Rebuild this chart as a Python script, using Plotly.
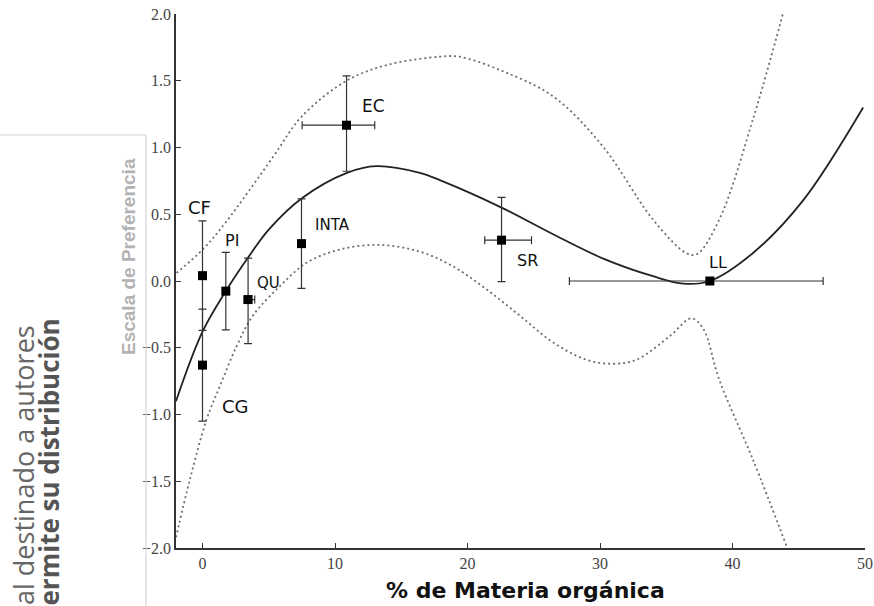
import plotly.graph_objects as go

# ---- data ----
site_names = ["CF", "CG", "PI", "QU", "INTA", "EC", "SR", "LL"]
site_x = [0.0, 0.0, 1.76, 3.44, 7.47, 10.87, 22.57, 38.29]
site_y = [0.04, -0.63, -0.076, -0.139, 0.28, 1.167, 0.306, 0.0]
err_y_plus = [0.41, 0.42, 0.29, 0.31, 0.335, 0.37, 0.32, 0.0]
err_y_minus = [0.41, 0.42, 0.29, 0.33, 0.335, 0.345, 0.31, 0.0]
err_x_plus = [0.0, 0.0, 0.0, 0.5, 0.0, 2.13, 2.26, 8.55]
err_x_minus = [0.0, 0.0, 0.0, 0.3, 0.0, 3.35, 1.27, 10.6]

fit_x = [-2.0, 0.0, 1.76, 3.4, 5.0, 7.5, 10.9, 13.1, 16.4, 18.05, 22.57, 26.46, 30.2, 34.0, 36.3, 38.3, 41.55, 45.3, 49.86]
fit_y = [-0.90, -0.38, -0.076, 0.17, 0.385, 0.62, 0.81, 0.86, 0.81, 0.75, 0.55, 0.35, 0.17, 0.036, -0.02, 0.0, 0.21, 0.60, 1.30]

upper_x = [-1.96, 0.05, 1.76, 5.33, 7.47, 10.87, 14.0, 17.9, 19.4, 22.7, 26.5, 30.2, 34.0, 36.5, 37.3, 39.0, 41.6, 43.8]
upper_y = [0.06, 0.24, 0.44, 0.93, 1.23, 1.50, 1.62, 1.68, 1.68, 1.57, 1.38, 1.01, 0.46, 0.21, 0.20, 0.46, 1.23, 2.0]

lower_x = [-2.0, -0.96, 0.3, 1.3, 2.57, 3.8, 5.83, 7.85, 10.36, 13.4, 16.4, 18.9, 21.4, 23.95, 26.46, 28.98, 31.0, 32.75, 35.3, 36.9, 37.8, 39.0, 41.55, 44.1]
lower_y = [-1.92, -1.49, -1.04, -0.79, -0.49, -0.26, -0.04, 0.136, 0.236, 0.27, 0.22, 0.11, -0.06, -0.26, -0.46, -0.59, -0.62, -0.59, -0.41, -0.28, -0.36, -0.74, -1.34, -1.99]

label_x = [-0.26, 2.5, 2.25, 4.95, 9.8, 12.88, 24.5, 38.9]
label_y = [0.55, -0.94, 0.303, -0.014, 0.417, 1.31, 0.152, 0.142]
label_size = [18, 18, 16, 15, 15, 17, 16, 16]

x_ticks = [0, 10, 20, 30, 40, 50]
y_ticks = [-2.0, -1.5, -1.0, -0.5, 0.0, 0.5, 1.0, 1.5, 2.0]

W, H = 874, 606
L, R, T, B = 176, 9, 14, 58
PW, PH = W - L - R, H - T - B


def px(xp):
    return (xp - L) / PW


def py(yp):
    return (H - B - yp) / PH


DOT = "2px,3px"

fig = go.Figure()

fig.add_trace(go.Scatter(x=upper_x, y=upper_y, mode="lines", line_shape="spline",
                         line=dict(color="#6e6e6e", width=1.8, dash=DOT), hoverinfo="skip"))
fig.add_trace(go.Scatter(x=lower_x, y=lower_y, mode="lines", line_shape="spline",
                         line=dict(color="#6e6e6e", width=1.8, dash=DOT), hoverinfo="skip"))
fig.add_trace(go.Scatter(x=fit_x, y=fit_y, mode="lines", line_shape="spline",
                         line=dict(color="#222222", width=1.8), hoverinfo="skip"))
fig.add_trace(go.Scatter(
    x=site_x, y=site_y, mode="markers", text=site_names,
    marker=dict(symbol="square", size=9, color="black"),
    error_y=dict(type="data", symmetric=False, array=err_y_plus, arrayminus=err_y_minus,
                 color="#333333", thickness=1.2, width=4),
    error_x=dict(type="data", symmetric=False, array=err_x_plus, arrayminus=err_x_minus,
                 color="#333333", thickness=1.2, width=4),
))

for name, lx, ly, sz in zip(site_names, label_x, label_y, label_size):
    fig.add_annotation(x=lx, y=ly, xref="x", yref="y", text=name, showarrow=False,
                       xanchor="center", yanchor="middle",
                       font=dict(family="DejaVu Sans", size=sz, color="#111111"))

# axis titles
fig.add_annotation(x=px(128), y=py(257), xref="paper", yref="paper", text="<b>Escala de Preferencia</b>",
                   textangle=-90, showarrow=False, xanchor="center", yanchor="middle",
                   font=dict(family="Liberation Sans", size=19, color="#b3b3b3"))
fig.add_annotation(x=px(525), y=py(590), xref="paper", yref="paper", text="<b>% de Materia orgánica</b>",
                   showarrow=False, xanchor="center", yanchor="middle",
                   font=dict(family="DejaVu Sans", size=22, color="#111111"))

# overlaid page fragment at the left
fig.add_annotation(x=px(23), y=py(323), xref="paper", yref="paper", text="al destinado a autores",
                   textangle=-90, showarrow=False, xanchor="center", yanchor="top",
                   font=dict(family="Open Sans", size=27, color="#666666"))
fig.add_annotation(x=px(49), y=py(317), xref="paper", yref="paper", text="<b>ermite su distribución</b>",
                   textangle=-90, showarrow=False, xanchor="center", yanchor="top",
                   font=dict(family="Open Sans", size=26, color="#555555"))
fig.add_shape(type="line", xref="paper", yref="paper", x0=px(0), x1=px(146), y0=py(135), y1=py(135),
              line=dict(color="#d4d4d4", width=1.2))
fig.add_shape(type="line", xref="paper", yref="paper", x0=px(146), x1=px(146), y0=py(135), y1=py(606),
              line=dict(color="#d4d4d4", width=1.2))

fig.update_layout(
    width=W, height=H, margin=dict(l=L, r=R, t=T, b=B),
    paper_bgcolor="white", plot_bgcolor="white", showlegend=False,
    xaxis=dict(range=[-2, 50], tickvals=x_ticks, showgrid=False, zeroline=False, automargin=False,
               showline=True, linecolor="#333333", linewidth=1.5, ticks="inside", ticklen=5,
               tickcolor="#333333", tickfont=dict(family="Liberation Serif", size=16, color="#444444")),
    yaxis=dict(range=[-2, 2], tickvals=y_ticks, tickformat=".1f", showgrid=False, zeroline=False,
               automargin=False,
               showline=True, linecolor="#333333", linewidth=1.5, ticks="inside", ticklen=5,
               tickcolor="#333333", tickfont=dict(family="Liberation Serif", size=16, color="#444444")),
)

fig.write_html("out.html", config={"displayModeBar": False},
               post_script="document.body.style.margin='0px';document.body.style.overflow='hidden';")
